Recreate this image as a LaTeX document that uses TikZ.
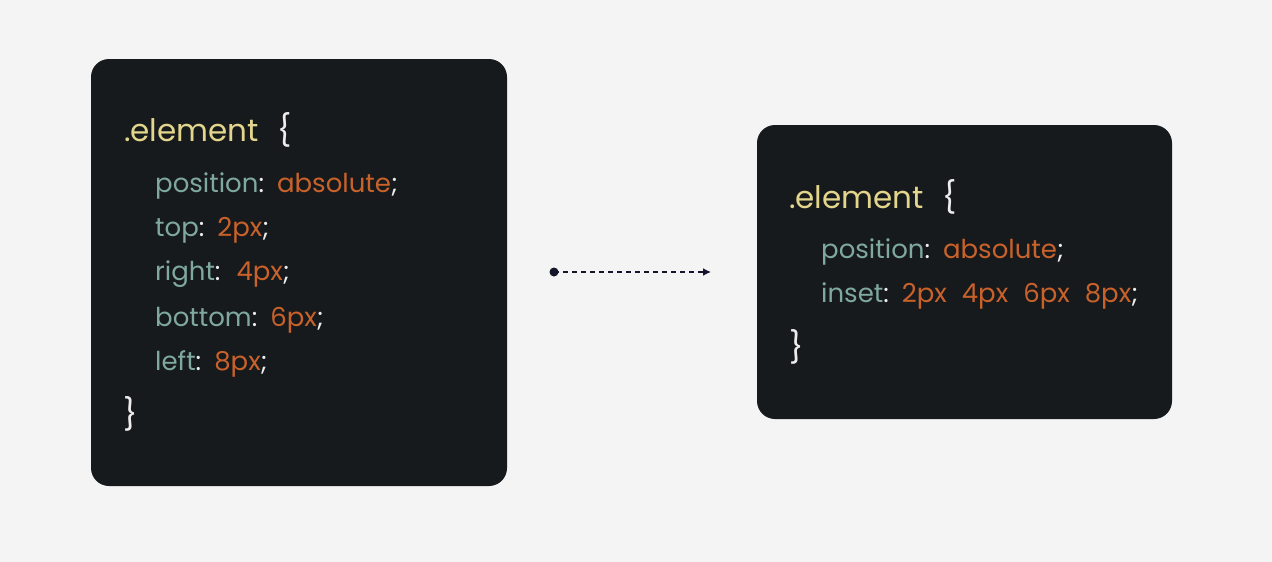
\documentclass[tikz,border=0pt]{standalone}
\usepackage{fontspec}
\setmainfont{Poppins}
\usepackage{tikz}
\usepackage{xcolor}
\usetikzlibrary{calc,arrows.meta}
\definecolor{pagecolor}{HTML}{F4F4F4}
\definecolor{boxcolor}{HTML}{171A1D}
\definecolor{selcolor}{HTML}{E3D68C}
\definecolor{propcolor}{HTML}{7FA9A0}
\definecolor{valcolor}{HTML}{C9622A}
\definecolor{punccolor}{HTML}{EDEDED}
\definecolor{arrowcolor}{HTML}{14142B}
\newcommand{\sel}[1]{\textcolor{selcolor}{#1}}
\newcommand{\prop}[1]{\textcolor{propcolor}{#1}\textcolor{punccolor}{:}\hspace{13pt}}
\newcommand{\val}[1]{\textcolor{valcolor}{#1}}
\newcommand{\semi}{\textcolor{punccolor}{;}}
\tikzstyle{codebox} = [
    fill=boxcolor,
    rounded corners=18pt
    ]
\tikzstyle{headline} = [
    anchor=base west,
    inner sep=0pt,
    font=\fontsize{31}{36}\selectfont
    ]
\tikzstyle{codeline} = [
    anchor=base west,
    inner sep=0pt,
    font=\fontsize{26}{30}\selectfont
    ]
\tikzstyle{flow} = [
    draw=arrowcolor,
    line width=1.6pt,
    dash pattern=on 5pt off 4pt,
    -{Latex[length=8pt,width=8pt]}
    ]

\begin{document}
\begin{tikzpicture}[x=1pt,y=-1pt]
\fill[pagecolor] (0,0) rectangle (1272,562);
\useasboundingbox (0,0) rectangle (1272,562);
% long form
\fill[codebox] (91,59) rectangle (507,486);
\node[headline] (lsel) at (124,141) {\sel{.element}\hspace{18pt}\textcolor{punccolor}{\{}};
\node[codeline] (lpos) at (155,192) {\prop{position}\val{absolute}\semi};
\node[codeline] (ltop) at (155,236) {\prop{top}\val{2px}\semi};
\node[codeline] (lright) at (155,280) {\prop{right}\hspace{3pt}\val{4px}\semi};
\node[codeline] (lbottom) at (155,326) {\prop{bottom}\val{6px}\semi};
\node[codeline] (lleft) at (155,370) {\prop{left}\val{8px}\semi};
\node[headline] (lclose) at (123,425) {\textcolor{punccolor}{\}}};
% short form
\fill[codebox] (757,125) rectangle (1172,419);
\node[headline] (rsel) at (789,208) {\sel{.element}\hspace{18pt}\textcolor{punccolor}{\{}};
\node[codeline] (rpos) at (821,258) {\prop{position}\val{absolute}\semi};
\node[codeline] (rinset) at (821,302) {\prop{inset}\val{2px\hspace{15pt}4px\hspace{15pt}6px\hspace{15pt}8px}\semi};
\node[headline] (rclose) at (789,358) {\textcolor{punccolor}{\}}};
% arrow
\coordinate (from) at (554,272);
\coordinate (to) at (711,272);
\fill[arrowcolor] (from) circle (4.5pt);
\draw[flow] (from) -- (to);
\end{tikzpicture}
\end{document}
